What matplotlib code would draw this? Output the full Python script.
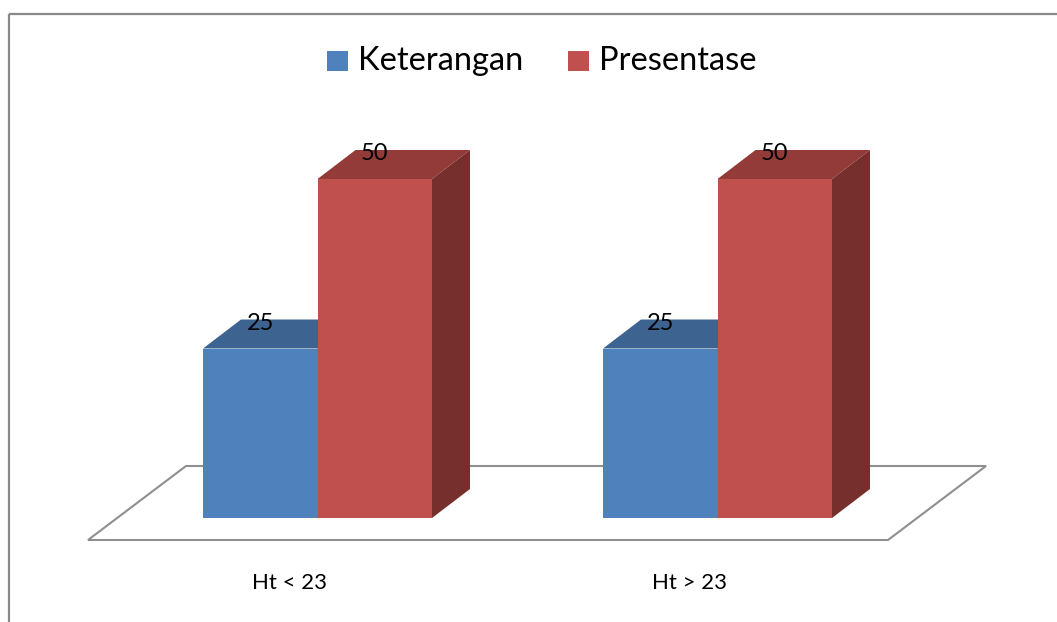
import matplotlib
matplotlib.use("Agg")
from matplotlib import pyplot as plt
from matplotlib.patches import Polygon

# data
categories = ["Ht < 23", "Ht > 23"]
series_names = ["Keterangan", "Presentase"]
keterangan = [25, 25]
presentase = [50, 50]
values = [keterangan, presentase]

front_cols = ["#4F81BD", "#C0504D"]
top_cols = ["#3D6490", "#933B39"]
side_cols = ["#345578", "#772F2E"]

plt.rcParams['font.family'] = ['Lato', 'DejaVu Sans']

fig = plt.figure(figsize=(10.57, 6.22), dpi=100)
ax = fig.add_axes([0, 0, 1, 1])
ax.set_xlim(0, 1057)
ax.set_ylim(622, 0)
ax.axis('off')

# chart frame (only top and left visible)
ax.plot([9, 1057], [14, 14], color="#898989", lw=1.6, solid_capstyle='butt')
ax.plot([9, 9], [14, 622], color="#898989", lw=1.6, solid_capstyle='butt')

# 3d layout
base_y = 518
px_per_unit = (518 - 179) / 50.0
bar_w = 114.5
dx, dy = 38, -29
group_x0 = 203
group_step = 400

# floor
floor = Polygon([(88, 540), (888, 540), (986, 466), (186, 466)], closed=True,
                facecolor="white", edgecolor="#8f8f8f", lw=1.5, zorder=1)
ax.add_patch(floor)

for i, cat in enumerate(categories):
    for s in range(len(series_names)):
        v = values[s][i]
        x0 = group_x0 + i * group_step + s * bar_w
        x1 = x0 + bar_w
        ytop = base_y - v * px_per_unit
        top = Polygon([(x0, ytop), (x1, ytop), (x1 + dx, ytop + dy), (x0 + dx, ytop + dy)],
                      closed=True, facecolor=top_cols[s], edgecolor='none', zorder=2 + s)
        side = Polygon([(x1, ytop), (x1 + dx, ytop + dy), (x1 + dx, base_y + dy), (x1, base_y)],
                       closed=True, facecolor=side_cols[s], edgecolor='none', zorder=2 + s)
        front = Polygon([(x0, ytop), (x1, ytop), (x1, base_y), (x0, base_y)],
                        closed=True, facecolor=front_cols[s], edgecolor='none', zorder=2 + s)
        ax.add_patch(top)
        ax.add_patch(side)
        ax.add_patch(front)
        ax.text((x0 + x1) / 2, ytop - 25, str(v), ha='center', va='center',
                fontsize=17, color='black', zorder=10)
    ax.text(group_x0 + i * group_step + 86, 583, cat, ha='center', va='center',
            fontsize=16, color='black')

# legend
leg_x = [327, 568]
for s, name in enumerate(series_names):
    ax.add_patch(Polygon([(leg_x[s], 51), (leg_x[s] + 21, 51), (leg_x[s] + 21, 71), (leg_x[s], 71)],
                         closed=True, facecolor=front_cols[s], edgecolor='none'))
    ax.text(leg_x[s] + 31, 61, name, ha='left', va='center', fontsize=23.5, color='black')

fig.savefig("out.png", dpi=100, facecolor="white")
